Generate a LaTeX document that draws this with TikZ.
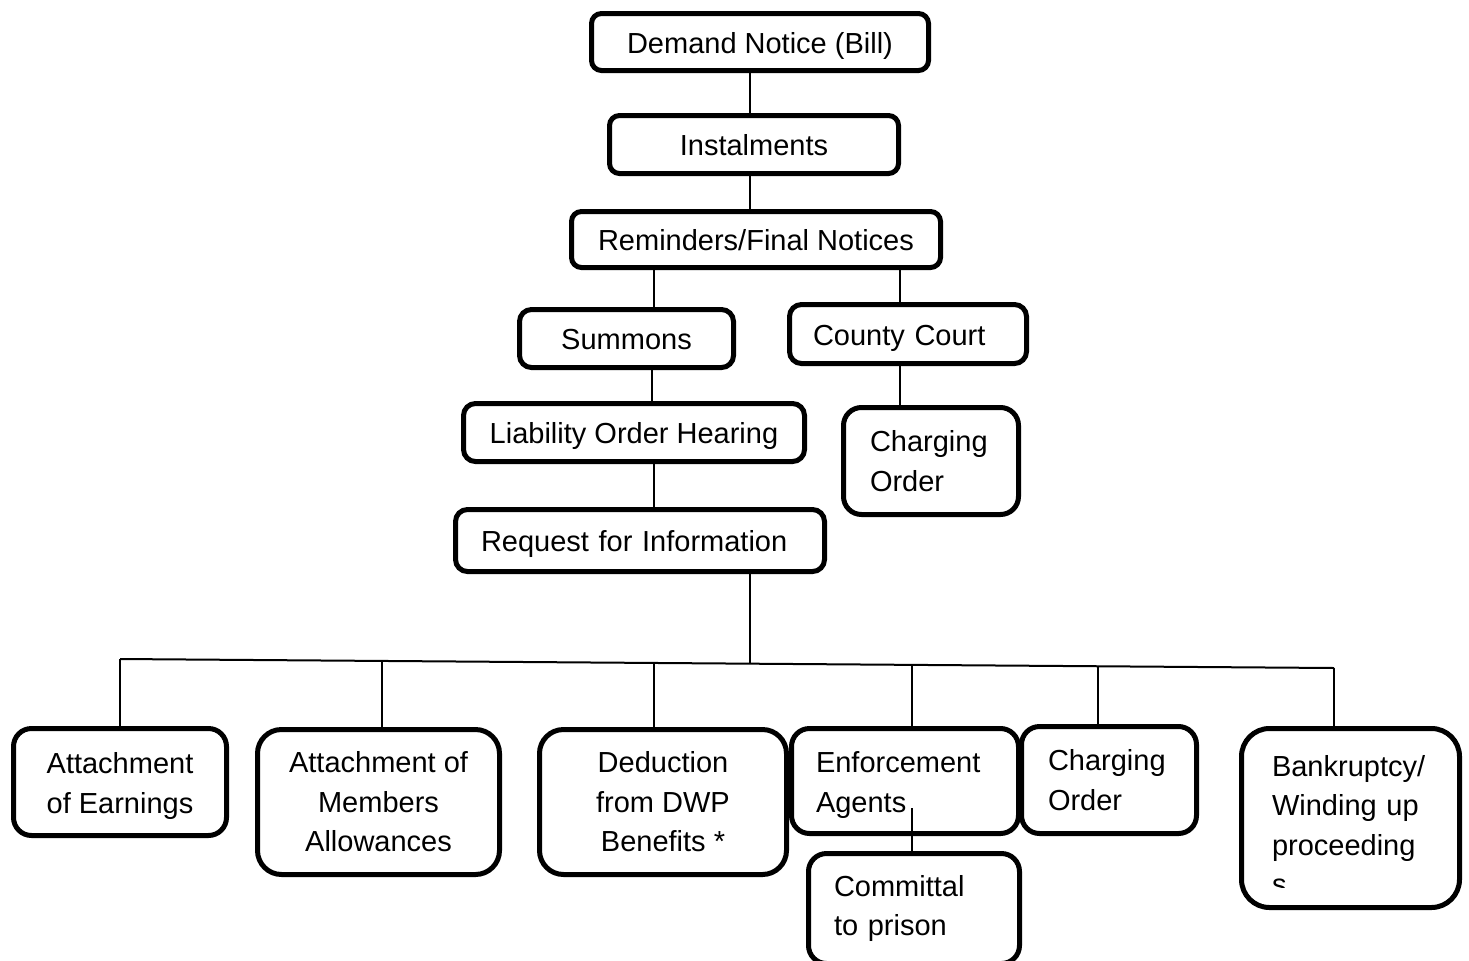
\documentclass[tikz,border=0pt]{standalone}
\usepackage{fontspec}
\setmainfont{Liberation Sans}
\newcommand\boxfont{\fontsize{14.5pt}{19.75pt}\selectfont}
\begin{document}
\begin{tikzpicture}[x=0.5pt,y=-0.5pt,
  box/.style={draw, line width=2.5pt, inner sep=0pt, align=center, font=\boxfont},
  oneline/.style={text height=14pt, text depth=3pt},
  conn/.style={line width=1pt}]
\useasboundingbox (0,0) rectangle (1469,960);
% top chain
\node[box, oneline, rounded corners=5pt, minimum width=168.5pt, minimum height=28.5pt] (dem) at (760,42) {Demand Notice (Bill)};
\node[box, oneline, rounded corners=5pt, minimum width=144.5pt, minimum height=29pt] (ins) at (754,144.5) {Instalments};
\node[box, oneline, rounded corners=5pt, minimum width=184.5pt, minimum height=28pt] (rem) at (756,239.5) {Reminders/Final Notices};
\node[box, oneline, rounded corners=6pt, minimum width=107pt, minimum height=29pt] (sum) at (626.5,338.5) {Summons};
\node[box, oneline, rounded corners=6pt, minimum width=118.5pt, minimum height=29.5pt, align=left, text width=95pt] (cc) at (908,334) {County Court};
\node[box, oneline, rounded corners=6pt, minimum width=170.5pt, minimum height=29pt] (loh) at (634,432.5) {Liability Order Hearing};
\node[box, rounded corners=9pt, minimum width=87.5pt, minimum height=53.5pt, align=left, text width=61pt] (co1) at (931,461) {Charging\\Order};
\node[box, oneline, rounded corners=6pt, minimum width=184.5pt, minimum height=31pt, align=left, text width=159pt] (req) at (640,540.5) {Request for Information};
% bottom row
\node[box, rounded corners=9pt, minimum width=106.5pt, minimum height=53.5pt] (aoe) at (120,782) {\rule{0pt}{14.6pt}Attachment\\of Earnings};
\node[box, rounded corners=12pt, minimum width=121pt, minimum height=72.5pt] (mem) at (378.5,802) {Attachment of\\Members\\Allowances};
\node[box, rounded corners=12pt, minimum width=123.5pt, minimum height=72.5pt] (ded) at (663,802) {Deduction\\from DWP\\Benefits *};
\node[box, rounded corners=9pt, minimum width=113.5pt, minimum height=52.5pt, align=left, text width=89pt] (enf) at (905,781) {\rule{0pt}{14.5pt}Enforcement\\Agents};
\node[box, rounded corners=9pt, minimum width=87.5pt, minimum height=53.5pt, align=left, text width=61pt] (co2) at (1109,780) {Charging\\Order};
\node[box, rounded corners=9pt, minimum width=105.5pt, minimum height=55pt, align=left, text width=80pt] (com) at (914,908.5) {Committal\\to prison};
\node[box, rounded corners=14pt, minimum width=109pt, minimum height=89.5pt, align=left, text width=78.5pt] (bank) at (1350.5,818) {\rule{0pt}{17.5pt}Bankruptcy/\\Winding up\\proceeding\\s};
\fill[white] (1262,888) rectangle (1305,904);
% connectors
\draw[conn] ([xshift=-5pt]dem.south) -- ([xshift=-5pt]dem.south |- ins.north);
\draw[conn] ([xshift=-2pt]ins.south) -- ([xshift=-2pt]ins.south |- rem.north);
\draw[conn] ([xshift=-51pt]rem.south) -- ([xshift=-51pt]rem.south |- sum.north);
\draw[conn] ([xshift=72pt]rem.south) -- ([xshift=72pt]rem.south |- cc.north);
\draw[conn] ([xshift=12.75pt]sum.south) -- ([xshift=12.75pt]sum.south |- loh.north);
\draw[conn] ([xshift=-4pt]cc.south) -- ([xshift=-4pt]cc.south |- co1.north);
\draw[conn] ([xshift=10pt]loh.south) -- ([xshift=10pt]loh.south |- req.north);
% bus
\coordinate (b1) at (120,659);
\coordinate (b2) at (382,660.9);
\coordinate (b3) at (654,663);
\coordinate (bq) at (750,663.7);
\coordinate (b4) at (912,664.9);
\coordinate (b5) at (1098,666.3);
\coordinate (b6) at (1334,668);
\draw[conn] ([xshift=55pt]req.south) -- (bq);
\draw[conn] (b1) -- (b6);
\draw[conn] (b1) -- (b1 |- aoe.north);
\draw[conn] (b2) -- (b2 |- mem.north);
\draw[conn] (b3) -- (b3 |- ded.north);
\draw[conn] (b4) -- (b4 |- enf.north);
\draw[conn] (b5) -- (b5 |- co2.north);
\draw[conn] (b6) -- (b6 |- bank.north);
\draw[conn] ([xshift=3.5pt,yshift=-13.5pt]enf.center) -- ([xshift=3.5pt]enf.center |- com.north);
\end{tikzpicture}
\end{document}
